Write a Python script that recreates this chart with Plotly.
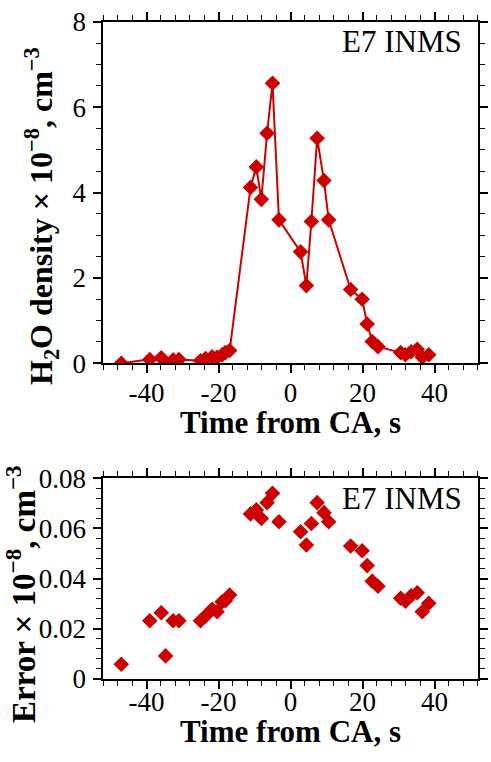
import plotly.graph_objects as go

# Time from closest approach, s
time_s = [-47.0, -39.1, -35.9, -34.7, -32.6, -31.0, -25.0, -23.6, -21.8, -20.4,
          -19.0, -18.1, -16.9, -11.1, -9.5, -8.1, -6.5, -5.0, -3.2, 2.8,
          4.4, 5.8, 7.4, 9.3, 10.6, 16.7, 19.9, 21.3, 22.7, 24.3,
          30.6, 31.9, 33.5, 35.2, 36.6, 38.4]

# H2O density x 1e-8 cm^-3
density = [0.0, 0.09, 0.13, 0.0, 0.08, 0.09, 0.06, 0.11, 0.15, 0.14,
           0.20, 0.25, 0.30, 4.12, 4.60, 3.84, 5.39, 6.56, 3.36, 2.61,
           1.82, 3.32, 5.27, 4.28, 3.36, 1.73, 1.50, 0.92, 0.51, 0.39,
           0.25, 0.20, 0.27, 0.33, 0.14, 0.20]

# Error x 1e-8 cm^-3
error = [0.0059, 0.0232, 0.0264, 0.0092, 0.0232, 0.0232, 0.0232, 0.0251, 0.0278, 0.0268,
         0.0308, 0.0312, 0.0335, 0.0658, 0.0674, 0.0640, 0.0703, 0.0740, 0.0627, 0.0587,
         0.0534, 0.0620, 0.0703, 0.0663, 0.0627, 0.0530, 0.0511, 0.0452, 0.0390, 0.0370,
         0.0322, 0.0310, 0.0332, 0.0344, 0.0268, 0.0302]

x_tickvals = [-40, -20, 0, 20, 40]
x_ticktext = ["-40", "-20", "0", "20", "40"]
y1_tickvals = [0, 2, 4, 6, 8]
y2_tickvals = [0, 0.02, 0.04, 0.06, 0.08]
y2_ticktext = ["0", "0.02", "0.04", "0.06", "0.08"]
label_text = "E7 INMS"

RED = "#CC0000"
FONT = "Liberation Serif"
W, H = 491, 762

fig = go.Figure()
fig.add_trace(go.Scatter(x=time_s, y=density, mode="lines+markers",
                         line=dict(color=RED, width=2),
                         marker=dict(symbol="diamond", size=12, color=RED),
                         xaxis="x", yaxis="y", showlegend=False))
fig.add_trace(go.Scatter(x=time_s, y=error, mode="markers",
                         marker=dict(symbol="diamond", size=12, color=RED),
                         xaxis="x2", yaxis="y2", showlegend=False))

def px(x):
    return x / W

def py(y):
    return 1 - y / H

axis_common = dict(showline=True, linecolor="black", linewidth=2, mirror="allticks",
                   ticks="outside", ticklen=8, tickwidth=1.5, tickcolor="black",
                   showgrid=False, zeroline=False, automargin=False,
                   tickfont=dict(family=FONT, size=27, color="black"))
minor_common = dict(ticks="outside", ticklen=5, tickcolor="black", tickwidth=1)

xdom = [px(103.3), px(477.7)]
fig.update_layout(
    width=W, height=H, autosize=False, margin=dict(l=0, r=0, t=0, b=0, pad=0),
    font=dict(family=FONT, color="black"),
    plot_bgcolor="white", paper_bgcolor="white",
    xaxis=dict(domain=xdom, anchor="y", range=[-52, 52], tickmode="array",
               tickvals=x_tickvals, ticktext=x_ticktext, ticklabelstandoff=-4,
               minor=dict(dtick=4, tick0=0, **minor_common), **axis_common),
    yaxis=dict(domain=[py(363.3), py(21.7)], anchor="x", range=[0, 8], tickmode="array",
               tickvals=y1_tickvals, ticklabelstandoff=2,
               minor=dict(dtick=0.5, tick0=0, **minor_common), **axis_common),
    xaxis2=dict(domain=xdom, anchor="y2", range=[-52, 52], tickmode="array",
                tickvals=x_tickvals, ticktext=x_ticktext, ticklabelstandoff=-10,
                minor=dict(dtick=4, tick0=0, **minor_common), **axis_common),
    yaxis2=dict(domain=[py(679), py(478.3)], anchor="x2", range=[0, 0.08], tickmode="array",
                tickvals=y2_tickvals, ticktext=y2_ticktext, ticklabelstandoff=2,
                minor=dict(dtick=0.004, tick0=0, **minor_common), **axis_common),
)

ann = []
# x titles (baseline positions)
for yb in (434, 743):
    ann.append(dict(text="<b>Time from CA, s</b>", x=px(290.3), y=py(yb + 8), xref="paper", yref="paper",
                    xanchor="center", yanchor="bottom", showarrow=False,
                    font=dict(family=FONT, size=31, color="black")))
# y titles
ann.append(dict(text="<b>H<sub>2</sub>O density × 10<sup>−8</sup>, cm<sup>−3</sup></b>",
                x=px(42), y=py(216), xref="paper", yref="paper", textangle=-90,
                xanchor="center", yanchor="middle", showarrow=False,
                font=dict(family=FONT, size=32, color="black")))
ann.append(dict(text="<b>Error × 10<sup>−8</sup>, cm<sup>−3</sup></b>",
                x=px(21), y=py(594), xref="paper", yref="paper", textangle=-90,
                xanchor="center", yanchor="middle", showarrow=False,
                font=dict(family=FONT, size=33, color="black")))
# labels
for yb in (53.3, 510):
    ann.append(dict(text=label_text, x=px(464), y=py(yb + 8), xref="paper", yref="paper",
                    xanchor="right", yanchor="bottom", showarrow=False,
                    font=dict(family=FONT, size=31, color="black")))
fig.update_layout(annotations=ann)

fig.write_html("out.html")
